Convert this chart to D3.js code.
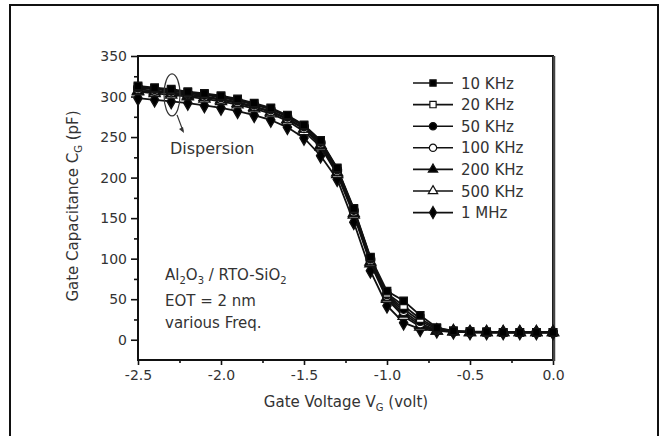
<!DOCTYPE html>
<html><head><meta charset="utf-8">
<script src="https://cdn.jsdelivr.net/npm/d3@7"></script>
<style>body{margin:0;background:#fff}svg{display:block}text{font-family:"DejaVu Sans",Verdana,sans-serif}</style>
</head><body><svg id="c" width="666" height="436"></svg>
<script>
const voltages = [-2.5,-2.4,-2.3,-2.2,-2.1,-2.0,-1.9,-1.8,-1.7,-1.6,-1.5,-1.4,-1.3,-1.2,-1.1,-1.0,-0.9,-0.8,-0.7,-0.6,-0.5,-0.4,-0.3,-0.2,-0.1,0.0];
const c10k  = [313,311,309,306,304,301,297,292,286,277,265,246,212,162,102,60,48,30,15,11,10,10,9,9,9,9];
const c20k  = [312,310,308,305,303,300,296,291,285,276,264,245,211,161,101,57,42,26,14,11,10,9,9,9,9,9];
const c50k  = [311,309,307,304,302,299,295,290,284,275,263,244,210,160,100,56,38,23,13,10,10,9,9,9,9,9];
const c100k = [309,307,305,303,300,297,293,288,282,273,261,242,208,158,98,54,35,20,12,10,9,9,9,9,9,9];
const c200k = [307,306,304,301,299,296,292,287,281,272,260,240,206,156,96,52,32,18,11,10,9,9,9,9,9,9];
const c500k = [306,304,302,300,297,294,290,285,279,270,257,238,204,154,94,50,29,16,11,10,9,9,9,9,9,9];
const c1m   = [298,296,294,292,289,286,282,277,271,262,249,227,198,145,85,42,21,13,11,10,9,9,9,9,9,9];
const seriesNames = ["10 KHz","20 KHz","50 KHz","100 KHz","200 KHz","500 KHz","1 MHz"];
const seriesValues = [c10k,c20k,c50k,c100k,c200k,c500k,c1m];
const xTicks = [-2.5,-2.0,-1.5,-1.0,-0.5,0.0];
const yTicks = [0,50,100,150,200,250,300,350];

const markerTypes = [d3.symbolSquare,d3.symbolSquare,d3.symbolCircle,d3.symbolCircle,d3.symbolTriangle,d3.symbolTriangle,d3.symbolDiamond];
const markerFill = ["#000","#fff","#000","#fff","#000","#fff","#000"];
const markerSize = [56,56,60,60,54,54,60];

const txt = "#333";
const svg = d3.select("#c");
svg.append("rect").attr("x",10).attr("y",5).attr("width",648).attr("height",460)
  .attr("fill","#fff").attr("stroke","#111").attr("stroke-width",2);

const x = d3.scaleLinear().domain([-2.5,0]).range([138,553]);
const y = d3.scaleLinear().domain([-25,350]).range([360,56]);

const g = svg.append("g");
const fmtX = d => d.toFixed(1);
const xa = g.append("g").attr("transform","translate(0,360)")
  .call(d3.axisBottom(x).tickValues(xTicks).tickFormat(fmtX).tickSize(5).tickPadding(5));
const ya = g.append("g").attr("transform","translate(138,0)")
  .call(d3.axisLeft(y).tickValues(yTicks).tickFormat(d=>String(d)).tickSize(7).tickPadding(4));
g.append("g").attr("transform","translate(0,360)")
  .call(d3.axisBottom(x).tickValues([-2.25,-1.75,-1.25,-0.75,-0.25]).tickSize(3).tickFormat(""));
g.append("g").attr("transform","translate(138,0)")
  .call(d3.axisLeft(y).tickValues([25,75,125,175,225,275,325]).tickSize(4).tickFormat(""));
g.selectAll(".domain").remove();
g.selectAll(".tick line").attr("stroke","#111").attr("stroke-width",1.6);
[xa,ya].forEach(a=>a.selectAll("text").attr("font-size",14).attr("fill",txt)
  .attr("font-family","'DejaVu Sans',Verdana,sans-serif"));

g.append("rect").attr("x",138).attr("y",56).attr("width",415).attr("height",304)
  .attr("fill","none").attr("stroke","#111").attr("stroke-width",2);
g.append("line").attr("x1",554).attr("x2",554).attr("y1",56).attr("y2",361).attr("stroke","#444").attr("stroke-width",2.5);

// axis titles
const xt = svg.append("text").attr("x",346).attr("y",407).attr("text-anchor","middle")
  .attr("font-size",15).attr("fill",txt);
xt.append("tspan").text("Gate Voltage V");
xt.append("tspan").attr("font-size",10).attr("dy",4).text("G");
xt.append("tspan").attr("dy",-4).text(" (volt)");
const yt = svg.append("text").attr("transform","translate(78,206) rotate(-90)").attr("text-anchor","middle")
  .attr("font-size",15).attr("fill",txt);
yt.append("tspan").text("Gate Capacitance C");
yt.append("tspan").attr("font-size",10).attr("dy",4).text("G");
yt.append("tspan").attr("dy",-4).text(" (pF)");

// series
const line = d3.line().x((d,i)=>x(voltages[i])).y(d=>y(d));
const order = [6,5,4,3,2,1,0];
order.forEach(si=>{
  g.append("path").datum(seriesValues[si]).attr("d",line).attr("fill","none")
    .attr("stroke","#111").attr("stroke-width",1.8);
});
order.forEach(si=>{
  const sym = d3.symbol().type(markerTypes[si]).size(markerSize[si]);
  g.append("g").selectAll("path").data(seriesValues[si]).join("path")
    .attr("transform",(d,i)=>`translate(${x(voltages[i])},${y(d)})`)
    .attr("d",sym).attr("fill",markerFill[si]).attr("stroke","#111").attr("stroke-width",1.3);
});

// legend
const lg = svg.append("g");
seriesNames.forEach((n,i)=>{
  const yy = 83 + i*21.6;
  lg.append("line").attr("x1",413).attr("x2",453).attr("y1",yy).attr("y2",yy)
    .attr("stroke","#111").attr("stroke-width",1.6);
  lg.append("path").attr("transform",`translate(433,${yy})`)
    .attr("d",d3.symbol().type(markerTypes[i]).size(markerSize[i]*0.7)())
    .attr("fill",markerFill[i]).attr("stroke","#111").attr("stroke-width",1.2);
  lg.append("text").attr("x",461).attr("y",yy+5.5).attr("font-size",15).attr("fill",txt).text(n);
});

// dispersion annotation
const ex = x(-2.295), ey = y(302);
svg.append("ellipse").attr("cx",ex).attr("cy",ey).attr("rx",8).attr("ry",21)
  .attr("fill","none").attr("stroke","#333").attr("stroke-width",1.2);
svg.append("line").attr("x1",ex+5).attr("y1",ey+20).attr("x2",ex+11).attr("y2",ey+36)
  .attr("stroke","#333").attr("stroke-width",1.2);
svg.append("path").attr("d",`M${ex+12},${ey+38} l-5,-4 l4,-2 z`).attr("fill","#333");
svg.append("text").attr("x",170).attr("y",154).attr("font-size",16).attr("fill",txt).text("Dispersion");

// sample text
const tb = svg.append("g").attr("font-size",15).attr("fill",txt);
const t1 = tb.append("text").attr("x",165).attr("y",280);
t1.append("tspan").text("Al");
t1.append("tspan").attr("font-size",10).attr("dy",4).text("2");
t1.append("tspan").attr("dy",-4).text("O");
t1.append("tspan").attr("font-size",10).attr("dy",4).text("3");
t1.append("tspan").attr("dy",-4).text(" / RTO-SiO");
t1.append("tspan").attr("font-size",10).attr("dy",4).text("2");
tb.append("text").attr("x",165).attr("y",306).text("EOT = 2 nm");
tb.append("text").attr("x",165).attr("y",328).text("various Freq.");
</script></body></html>
